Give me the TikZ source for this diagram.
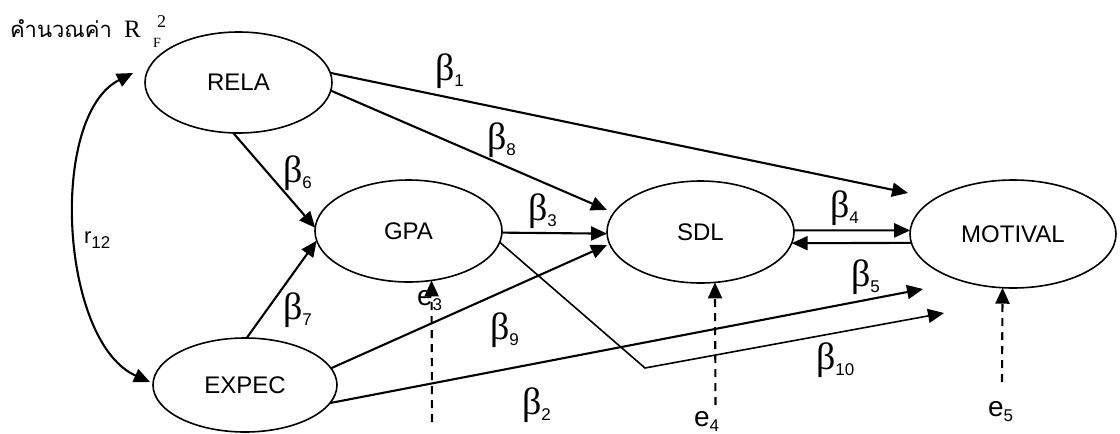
\documentclass[tikz,border=0pt]{standalone}
\usepackage{fontspec}
\setmainfont{Liberation Sans}
\newfontfamily\serifgr{Liberation Serif}
\newfontfamily\thaifont[Script=Thai]{Loma}
\usetikzlibrary{shapes.geometric,arrows.meta}
\newcommand\fsz[1]{\fontsize{#1}{#1}\selectfont}
\newcommand\bet[1]{{\serifgr\fsz{38}β}{\fsz{17}\raisebox{-6pt}{#1}}}
\newcommand\esub[3]{{\fsz{#3}#1}{\fsz{17}\raisebox{-5pt}{#2}}}
\begin{document}
\begin{tikzpicture}[x=1pt,y=-1pt,
  lv/.style={draw,ellipse,line width=1.6pt,inner sep=0pt,outer sep=0pt,font=\fsz{24}},
  arr/.style={line width=2.1pt,-{Triangle[length=16pt,width=14pt]}},
  darr/.style={arr,dash pattern=on 8pt off 6pt},
  lab/.style={anchor=base west,inner sep=0pt,outer sep=0pt}]
\useasboundingbox (0,0) rectangle (1120,434);

% latent variables
\node[lv,minimum width=187pt,minimum height=101pt] (rela) at (238.5,82.5) {RELA};
\node[lv,minimum width=187pt,minimum height=102pt] (gpa) at (408.5,231) {GPA};
\node[lv,minimum width=187pt,minimum height=102pt] (sdl) at (700.5,232) {SDL};
\node[lv,minimum width=206pt,minimum height=108pt] (motival) at (1013,234) {MOTIVAL};
\node[lv,minimum width=184pt,minimum height=94pt] (expec) at (245,385) {EXPEC};

% free ends
\coordinate (t1) at (908,193);
\coordinate (t8) at (607,210);
\coordinate (t9) at (607,245);
\coordinate (t2) at (923,289);
\coordinate (k10) at (645,368);
\coordinate (t10) at (944,313);
\coordinate (rt) at (133,73);
\coordinate (rb) at (150,382);
\coordinate (e3s) at (432,422);
\coordinate (e4s) at (715.5,405);
\coordinate (e5s) at (1002,382);

% paths
\draw[arr] (rela.6) -- (t1);
\draw[arr] (rela.-5) -- (t8);
\draw[arr] (rela.-96) -- (gpa.178);
\draw[arr] (expec.88) -- (gpa.186);
\draw[arr] (gpa.-1) -- (sdl.181);
\draw[arr] (sdl.1) -- (motival.178);
\draw[arr] (motival.185) -- (sdl.-7);
\draw[arr] (expec.11) -- (t9);
\draw[arr] (expec.-12) -- (t2);
\draw[line width=1.6pt,-{Triangle[length=16pt,width=14pt]}] (gpa.-7) -- (k10) -- (t10);
\draw[line width=2.1pt,{Triangle[length=16pt,width=14pt]}-{Triangle[length=16pt,width=14pt]}]
  (rb) .. controls (60,342) and (48,116) .. (rt);

% disturbances
\draw[darr] (e3s) -- (gpa.-65);
\draw[darr] (e4s) -- (sdl.-74);
\draw[darr] (e5s) -- (motival.-101);

% labels
\node[lab] (title) at (10,37) {\thaifont\fsz{22}คำนวณค่า};
\node[lab] (rr) at (124,37) {\serifgr\fsz{25}R};
\node[lab] (rsup) at (157,27) {\serifgr\fsz{18}2};
\node[lab] (rsub) at (153,47) {\serifgr\fsz{14}F};
\node[lab] (r12) at (84,243) {\esub{r}{12}{22}};
\node[lab] (e3) at (417,305) {\esub{e}{3}{28}};
\node[lab] (e4) at (694,426) {\esub{e}{4}{28}};
\node[lab] (e5) at (988,416) {\esub{e}{5}{28}};
\node[lab] (b1) at (435,80) {\bet{1}};
\node[lab] (b8) at (487,149) {\bet{8}};
\node[lab] (b6) at (283,182) {\bet{6}};
\node[lab] (b7) at (283,319) {\bet{7}};
\node[lab] (b3) at (528,220) {\bet{3}};
\node[lab] (b9) at (490,339) {\bet{9}};
\node[lab] (b4) at (830,217) {\bet{4}};
\node[lab] (b5) at (851,286) {\bet{5}};
\node[lab] (b10) at (816,369) {\bet{10}};
\node[lab] (b2) at (522,414) {\bet{2}};
\end{tikzpicture}
\end{document}
